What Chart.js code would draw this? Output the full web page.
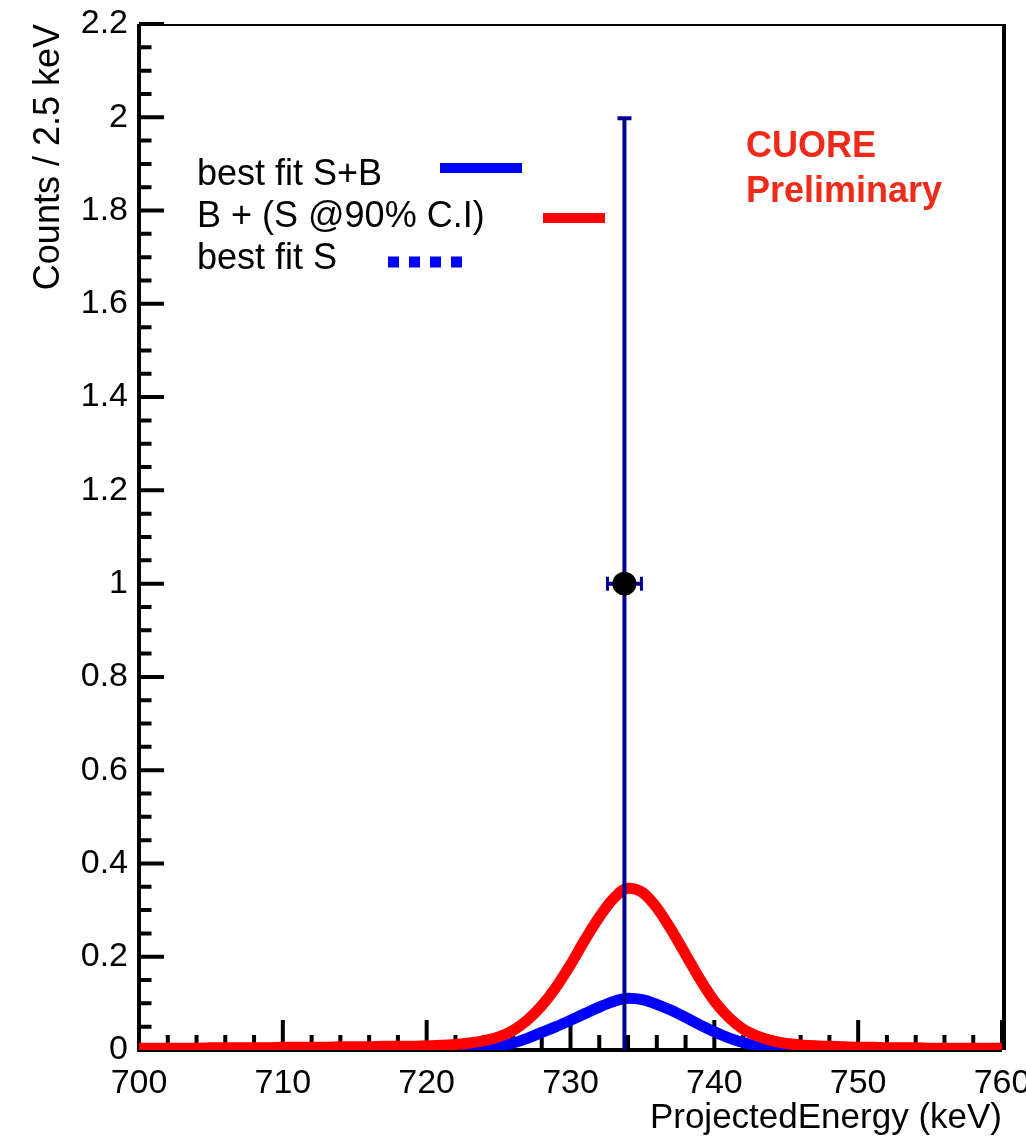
<!DOCTYPE html>
<html lang="en">
<head>
<meta charset="UTF-8">
<title>CUORE | Projected Energy</title>
<script src="https://cdn.jsdelivr.net/npm/chart.js"></script>
<style>
  html, body { margin: 0; padding: 0; background: #fff; }
  #grafico { display: block; }
</style>
</head>
<body>
<canvas id="grafico" width="1026" height="1142"></canvas>

<script>
// energy grid of the drawn fit curves (keV)
const energy = [700, 701, 702, 703, 704, 705, 706, 707, 708, 709,
                710, 711, 712, 713, 714, 715, 716, 717, 718, 719,
                720, 721, 722, 723, 724, 725, 726, 727, 728, 729,
                730, 731, 732, 733, 734, 735, 736, 737, 738, 739,
                740, 741, 742, 743, 744, 745, 746, 747, 748, 749,
                750, 751, 752, 753, 754, 755, 756, 757, 758, 759, 760];

// B + (S @90% C.I)  -- red
const bPlusS90 = [0.004, 0.004, 0.004, 0.004, 0.004, 0.005, 0.005, 0.005, 0.005, 0.005,
                  0.006, 0.006, 0.006, 0.006, 0.007, 0.007, 0.007, 0.008, 0.008, 0.008,
                  0.009, 0.010, 0.012, 0.015, 0.020, 0.028, 0.042, 0.064, 0.095, 0.135,
                  0.183, 0.236, 0.285, 0.325, 0.347, 0.338, 0.305, 0.258, 0.205, 0.152,
                  0.105, 0.070, 0.045, 0.030, 0.020, 0.014, 0.011, 0.009, 0.008, 0.007,
                  0.006, 0.006, 0.005, 0.005, 0.005, 0.004, 0.004, 0.004, 0.004, 0.004, 0.004];

// best fit S+B  -- blue
const bestFitSB = [0.001, 0.001, 0.001, 0.001, 0.001, 0.001, 0.001, 0.001, 0.001, 0.001,
                   0.001, 0.001, 0.001, 0.001, 0.001, 0.001, 0.001, 0.001, 0.001, 0.001,
                   0.001, 0.001, 0.001, 0.002, 0.004, 0.008, 0.015, 0.025, 0.038, 0.050,
                   0.064, 0.078, 0.092, 0.104, 0.111, 0.108, 0.098, 0.085, 0.070, 0.054,
                   0.039, 0.026, 0.016, 0.009, 0.005, 0.003, 0.002, 0.001, 0.001, 0.001,
                   0.001, 0.001, 0.001, 0.001, 0.001, 0.001, 0.001, 0.001, 0.001, 0.001, 0.001];

// best fit S  -- blue dotted (sits under the S+B curve)
const bestFitS = [0, 0, 0, 0, 0, 0, 0, 0, 0, 0,
                  0, 0, 0, 0, 0, 0, 0, 0, 0, 0,
                  0, 0, 0, 0.001, 0.003, 0.007, 0.014, 0.024, 0.037, 0.049,
                  0.063, 0.077, 0.091, 0.103, 0.110, 0.107, 0.097, 0.084, 0.069, 0.053,
                  0.038, 0.025, 0.015, 0.008, 0.004, 0.002, 0.001, 0, 0, 0,
                  0, 0, 0, 0, 0, 0, 0, 0, 0, 0, 0];

// the one data point (bin of 2.5 keV)
const pointX = [733.75];
const pointY = [1];
const pointErrX = [1.25];
const pointErrYLow = [1];
const pointErrYHigh = [1];

const xTicks = [700, 710, 720, 730, 740, 750, 760];
const yTicks = [0, 0.2, 0.4, 0.6, 0.8, 1, 1.2, 1.4, 1.6, 1.8, 2, 2.2];

const legendLabels = ['best fit S+B', 'B + (S @90% C.I)', 'best fit S'];
const tagLines = ['CUORE', 'Preliminary'];

const FONT = "'Liberation Sans', Arial, Helvetica, sans-serif";
const RED = '#ff0000';
const BLUE = '#0000ff';
const NAVY = '#00008f';

function toXY(values) {
    return energy.map((e, i) => ({ x: e, y: values[i] }));
}

// frame + ticks drawn inside the plot, like ROOT does
const frame = {
    id: 'frame',
    beforeDatasetsDraw(chart) {
        const { ctx, chartArea: a, scales: { x, y } } = chart;
        ctx.save();
        ctx.strokeStyle = '#000';
        ctx.lineCap = 'butt';

        ctx.lineWidth = 2;
        ctx.beginPath();
        ctx.moveTo(a.left, a.top + 1);
        ctx.lineTo(a.right + 4, a.top + 1);
        ctx.stroke();

        ctx.lineWidth = 4;
        ctx.beginPath();
        ctx.moveTo(a.right + 2, a.top);
        ctx.lineTo(a.right + 2, a.bottom);
        ctx.stroke();

        ctx.beginPath();
        ctx.moveTo(a.left, a.top);
        ctx.lineTo(a.left, a.bottom + 2);
        ctx.moveTo(a.left - 2, a.bottom);
        ctx.lineTo(a.right, a.bottom);
        ctx.stroke();

        // y ticks, major every 0.2, minor every 0.05
        ctx.lineWidth = 4;
        ctx.beginPath();
        for (let k = 0; k <= 44; k++) {
            const py = y.getPixelForValue(k * 0.05);
            const len = (k % 4 === 0) ? 25 : 12.5;
            ctx.moveTo(a.left, py);
            ctx.lineTo(a.left + len, py);
        }
        // x ticks, major every 10, minor every 2
        for (let k = 0; k <= 30; k++) {
            const px = x.getPixelForValue(700 + k * 2);
            const len = (k % 5 === 0) ? 30 : 15;
            ctx.moveTo(px, a.bottom);
            ctx.lineTo(px, a.bottom - len);
        }
        ctx.stroke();
        ctx.restore();
    }
};

// error bars of the data point, under the marker
const errorBars = {
    id: 'errorBars',
    beforeDatasetDraw(chart, args) {
        if (args.index !== 0) return;
        const { ctx, scales: { x, y } } = chart;
        ctx.save();
        ctx.strokeStyle = NAVY;
        ctx.lineWidth = 4;
        pointX.forEach((vx, i) => {
            const px = x.getPixelForValue(vx);
            const py = y.getPixelForValue(pointY[i]);
            const yLo = y.getPixelForValue(pointY[i] - pointErrYLow[i]);
            const yHi = y.getPixelForValue(pointY[i] + pointErrYHigh[i]);
            const xLo = x.getPixelForValue(vx - pointErrX[i]);
            const xHi = x.getPixelForValue(vx + pointErrX[i]);
            ctx.beginPath();
            ctx.moveTo(px, yLo);
            ctx.lineTo(px, yHi);
            ctx.moveTo(px - 7, yHi + 1);
            ctx.lineTo(px + 7, yHi + 1);
            ctx.moveTo(xLo, py);
            ctx.lineTo(xHi, py);
            ctx.stroke();
            ctx.lineWidth = 3;
            ctx.beginPath();
            ctx.moveTo(xLo + 1, py - 7);
            ctx.lineTo(xLo + 1, py + 7);
            ctx.moveTo(xHi - 1, py - 7);
            ctx.lineTo(xHi - 1, py + 7);
            ctx.stroke();
        });
        ctx.restore();
    }
};

// legend box and the CUORE tag
const notes = {
    id: 'notes',
    afterDraw(chart) {
        const { ctx } = chart;
        ctx.save();
        ctx.fillStyle = '#000';
        ctx.font = '36px ' + FONT;
        ctx.textAlign = 'left';
        ctx.textBaseline = 'alphabetic';
        ctx.fillText(legendLabels[0], 197, 185);
        ctx.fillText(legendLabels[1], 197, 227);
        ctx.fillText(legendLabels[2], 197, 269);

        ctx.lineWidth = 10;
        ctx.strokeStyle = BLUE;
        ctx.beginPath();
        ctx.moveTo(440, 168);
        ctx.lineTo(522, 168);
        ctx.stroke();

        ctx.strokeStyle = RED;
        ctx.beginPath();
        ctx.moveTo(543, 218);
        ctx.lineTo(605, 218);
        ctx.stroke();

        ctx.strokeStyle = BLUE;
        ctx.lineWidth = 11;
        ctx.setLineDash([11, 10]);
        ctx.beginPath();
        ctx.moveTo(388, 262);
        ctx.lineTo(463, 262);
        ctx.stroke();
        ctx.setLineDash([]);

        ctx.fillStyle = '#ee2a1a';
        ctx.font = 'bold 36px ' + FONT;
        ctx.fillText(tagLines[0], 746, 157);
        ctx.fillText(tagLines[1], 746, 202);
        ctx.restore();
    }
};

new Chart(document.getElementById('grafico'), {
    type: 'line',
    data: {
        datasets: [
            {
                label: 'data',
                data: pointX.map((v, i) => ({ x: v, y: pointY[i] })),
                showLine: false,
                pointRadius: 12,
                pointBackgroundColor: '#000',
                pointBorderWidth: 0,
                order: 0
            },
            {
                label: legendLabels[1],
                data: toXY(bPlusS90),
                borderColor: RED,
                borderWidth: 11,
                pointRadius: 0,
                cubicInterpolationMode: 'monotone',
                fill: false,
                order: 1
            },
            {
                label: legendLabels[0],
                data: toXY(bestFitSB),
                borderColor: BLUE,
                borderWidth: 11,
                pointRadius: 0,
                cubicInterpolationMode: 'monotone',
                fill: false,
                order: 2
            },
            {
                label: legendLabels[2],
                data: toXY(bestFitS),
                borderColor: BLUE,
                borderWidth: 6,
                borderDash: [8, 8],
                pointRadius: 0,
                cubicInterpolationMode: 'monotone',
                fill: false,
                order: 3
            }
        ]
    },
    options: {
        responsive: false,
        animation: false,
        devicePixelRatio: 1,
        layout: { padding: { top: 24, right: 24, left: 0, bottom: 0 } },
        plugins: {
            legend: { display: false },
            tooltip: { enabled: false }
        },
        scales: {
            x: {
                type: 'linear',
                min: 700,
                max: 760,
                grid: { display: false, drawTicks: false },
                border: { display: false },
                afterBuildTicks: s => { s.ticks = xTicks.map(v => ({ value: v })); },
                afterFit: s => { s.height = 92; s.paddingLeft = 0; s.paddingRight = 0; },
                ticks: {
                    font: { family: FONT, size: 34 },
                    color: '#000',
                    padding: 13,
                    maxRotation: 0,
                    autoSkip: false
                },
                title: {
                    display: true,
                    text: 'ProjectedEnergy (keV)',
                    align: 'end',
                    color: '#000',
                    font: { family: FONT, size: 35 },
                    padding: { top: 0, bottom: 3 }
                }
            },
            y: {
                min: 0,
                max: 2.2,
                grid: { display: false, drawTicks: false },
                border: { display: false },
                afterBuildTicks: s => { s.ticks = yTicks.map(v => ({ value: v })); },
                afterFit: s => { s.width = 139; s.paddingTop = 0; s.paddingBottom = 0; },
                ticks: {
                    font: { family: FONT, size: 34 },
                    color: '#000',
                    padding: 11,
                    callback: v => String(Number(v.toFixed(2)))
                },
                title: {
                    display: true,
                    text: 'Counts / 2.5 keV',
                    align: 'end',
                    color: '#000',
                    font: { family: FONT, size: 36 },
                    padding: { top: 27, bottom: 0 }
                }
            }
        }
    },
    plugins: [frame, errorBars, notes]
});
</script>
</body>
</html>
